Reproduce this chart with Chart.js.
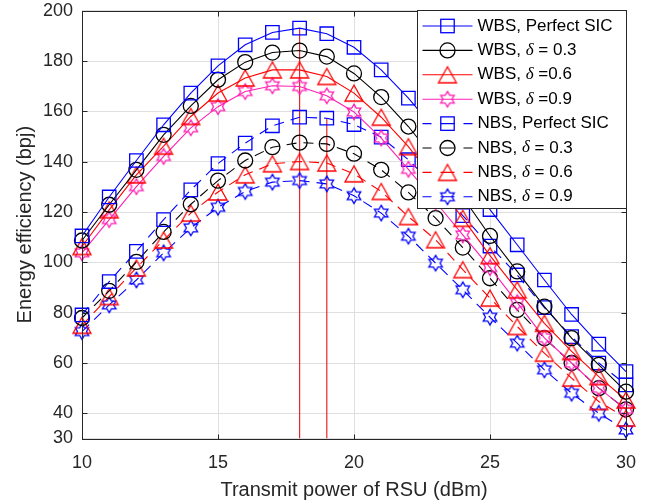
<!DOCTYPE html>
<html>
<head>
<meta charset="utf-8">
<script src="https://cdn.jsdelivr.net/npm/chart.js@4.4.1/dist/chart.umd.min.js"></script>
<style>
  html, body { margin: 0; padding: 0; background: #fff; }
  #wrap { width: 660px; height: 504px; }
</style>
</head>
<body>
<div id="wrap"><canvas id="graph" width="660" height="504"></canvas></div>
<script>
/* Data */
var power = [10, 11, 12, 13, 14, 15, 16, 17, 18, 19, 20, 21, 22, 23, 24, 25, 26, 27, 28, 29, 30];

var wbsPerfect = [110.5, 126, 140.5, 154.7, 167.3, 178.1, 186.5, 191.4, 193.1, 190.9, 185.5, 176.5, 165.3, 152.5, 137, 121, 107, 93, 79.3, 67.5, 56.6];
var wbs03      = [108.7, 122.9, 136.8, 150.7, 162.2, 172.6, 179.6, 183.4, 184.2, 181.8, 175.1, 165.7, 154, 140.5, 126, 110.5, 96.4, 82.4, 69.9, 59.3, 48.6];
var wbs06      = [106.3, 120.9, 134.8, 146.2, 158, 167.3, 173.3, 176.5, 176.5, 173.9, 167.3, 157.7, 146, 132, 117.5, 102.7, 89.1, 75.8, 64.6, 54.6, 45.3];
var wbs09      = [103.8, 117, 130.1, 142.1, 153.5, 161.9, 167.9, 170.2, 169.9, 166.2, 159.8, 149.4, 137, 124, 110.9, 97.9, 84, 70, 60, 50, 41.6];
var nbsPerfect = [79.1, 92.4, 104.4, 117, 128.8, 139.3, 147.4, 154.3, 157.7, 157.3, 154.8, 149.8, 140.8, 130, 118.6, 106.5, 95, 82, 70.5, 60, 51.3];
var nbs03      = [77.9, 88.7, 100.2, 112.1, 123.1, 132.5, 140.5, 145.8, 147.6, 147.1, 143.2, 136.8, 127.8, 117.6, 105.9, 93.7, 81.1, 69.9, 60, 50, 41.6];
var nbs06      = [75, 86.4, 97.8, 108.9, 119.6, 128, 134.8, 139.2, 140.1, 139.5, 135.2, 128.2, 118.2, 109, 97.1, 85.8, 74.5, 63.9, 54, 44.7, 38.1];
var nbs09      = [72.5, 83.1, 93, 103.8, 113.7, 121.9, 128.2, 131.9, 132.5, 131.2, 126.5, 119.6, 110.4, 99.7, 89.1, 78.2, 67.9, 57.3, 48, 40, 33.4];

var seriesLabels = ['WBS, Perfect SIC', 'WBS, δ = 0.3', 'WBS, δ =0.6', 'WBS, δ =0.9',
                    'NBS, Perfect SIC', 'NBS, δ = 0.3', 'NBS, δ = 0.6', 'NBS, δ = 0.9'];

/* vertical red lines at the optimum of the two Perfect SIC curves */
var optimumX = [18, 19];
var optimumY = [wbsPerfect[power.indexOf(18)], nbsPerfect[power.indexOf(19)]];

var yTicks = [30, 40, 60, 80, 100, 120, 140, 160, 180, 200];

var BLUE = '#0000ff', BLACK = '#000000', RED = '#ff0000', PINK = '#ff1fb4';
var FONT = "'Liberation Sans', Arial, Helvetica, sans-serif";
var AXIS = '#262626';

/* marker images (triangle and hexagram) */
function markerCanvas(kind, color) {
  var c = document.createElement('canvas');
  c.width = 24; c.height = 24;
  var g = c.getContext('2d');
  g.strokeStyle = color;
  g.lineWidth = 1.3;
  g.beginPath();
  if (kind === 'tri') {
    g.moveTo(12, 4);
    g.lineTo(21, 20);
    g.lineTo(3, 20);
  } else {
    var R = 7.8, r = R / Math.sqrt(3);
    for (var k = 0; k < 12; k++) {
      var ang = -Math.PI / 2 + k * Math.PI / 6;
      var rr = (k % 2 === 0) ? R : r;
      var px = 12 + rr * Math.cos(ang), py = 12 + rr * Math.sin(ang);
      if (k === 0) g.moveTo(px, py); else g.lineTo(px, py);
    }
  }
  g.closePath();
  g.stroke();
  return c;
}

var triRed = markerCanvas('tri', RED);
var starPink = markerCanvas('star', PINK);
var starBlue = markerCanvas('star', BLUE);

function serie(label, values, color, dashed, marker) {
  var radius = marker === 'rect' ? 9.5 : 7.5;
  return {
    label: label,
    data: values.map(function (v, i) { return { x: power[i], y: v }; }),
    borderColor: color,
    backgroundColor: 'transparent',
    borderWidth: 1.1,
    borderDash: dashed ? [10, 7] : [],
    pointStyle: marker,
    pointRadius: radius,
    pointHoverRadius: radius,
    pointBorderColor: color,
    pointBackgroundColor: 'transparent',
    pointBorderWidth: 1.3,
    tension: 0,
    fill: false,
    clip: false
  };
}

var datasets = [
  serie(seriesLabels[0], wbsPerfect, BLUE, false, 'rect'),
  serie(seriesLabels[1], wbs03, BLACK, false, 'circle'),
  serie(seriesLabels[2], wbs06, RED, false, triRed),
  serie(seriesLabels[3], wbs09, PINK, false, starPink),
  serie(seriesLabels[4], nbsPerfect, BLUE, true, 'rect'),
  serie(seriesLabels[5], nbs03, BLACK, true, 'circle'),
  serie(seriesLabels[6], nbs06, RED, true, triRed),
  serie(seriesLabels[7], nbs09, BLUE, true, starBlue)
];

for (var i = 0; i < optimumX.length; i++) {
  datasets.push({
    label: 'opt' + i,
    data: [{ x: optimumX[i], y: yTicks[0] }, { x: optimumX[i], y: optimumY[i] }],
    borderColor: '#e8262a',
    borderWidth: 1.2,
    pointRadius: 0,
    fill: false,
    order: 10
  });
}

/* box with inward ticks, MATLAB style */
var boxPlugin = {
  id: 'box',
  afterDatasetsDraw: function (chart) {
    var ctx = chart.ctx, a = chart.chartArea;
    var L = Math.round(a.left) + 0.5, R = Math.round(a.right) + 0.5;
    var T = Math.round(a.top) + 0.5, B = Math.round(a.bottom) + 0.5;
    ctx.save();
    ctx.strokeStyle = AXIS;
    ctx.lineWidth = 1;
    ctx.strokeRect(L, T, R - L, B - T);
    ctx.beginPath();
    chart.scales.x.ticks.forEach(function (t) {
      var px = Math.round(chart.scales.x.getPixelForValue(t.value)) + 0.5;
      ctx.moveTo(px, B); ctx.lineTo(px, B - 5);
      ctx.moveTo(px, T); ctx.lineTo(px, T + 5);
    });
    chart.scales.y.ticks.forEach(function (t) {
      var py = Math.round(chart.scales.y.getPixelForValue(t.value)) + 0.5;
      ctx.moveTo(L, py); ctx.lineTo(L + 5, py);
      ctx.moveTo(R, py); ctx.lineTo(R - 5, py);
    });
    ctx.stroke();
    ctx.restore();
  }
};

function drawMarker(ctx, ds, x, y) {
  var st = ds.pointStyle;
  ctx.strokeStyle = ds.pointBorderColor;
  ctx.lineWidth = ds.pointBorderWidth;
  if (st === 'rect') {
    var s = ds.pointRadius * Math.SQRT1_2;
    ctx.strokeRect(x - s, y - s, 2 * s, 2 * s);
  } else if (st === 'circle') {
    ctx.beginPath();
    ctx.arc(x, y, ds.pointRadius, 0, Math.PI * 2);
    ctx.stroke();
  } else {
    ctx.drawImage(st, x - st.width / 2, y - st.height / 2);
  }
}

/* legend drawn inside the plot, top right */
var legendPlugin = {
  id: 'insideLegend',
  afterDraw: function (chart) {
    var ctx = chart.ctx, a = chart.chartArea;
    var w = 209, h = 198;
    var left = Math.round(a.right) - w + 0.5, top = Math.round(a.top) - 0.5;
    ctx.save();
    ctx.fillStyle = '#ffffff';
    ctx.fillRect(left, top, w, h);
    ctx.strokeStyle = AXIS;
    ctx.lineWidth = 1;
    ctx.strokeRect(left, top, w, h);

    for (var i = 0; i < 8; i++) {
      var ds = chart.data.datasets[i];
      var cy = top + 15.5 + i * 24.4;
      var x0 = left + 5, x1 = left + 55, mx = left + 30;
      ctx.strokeStyle = ds.borderColor;
      ctx.lineWidth = 1.1;
      ctx.beginPath();
      if (ds.borderDash.length) {
        ctx.moveTo(x0, cy); ctx.lineTo(x0 + 9, cy);
        ctx.moveTo(mx - 7, cy); ctx.lineTo(mx + 7, cy);
        ctx.moveTo(x1 - 9, cy); ctx.lineTo(x1, cy);
      } else {
        ctx.moveTo(x0, cy); ctx.lineTo(x1, cy);
      }
      ctx.stroke();
      drawMarker(ctx, ds, mx, cy);

      var parts = ds.label.split('δ');
      var tx = left + 60;
      ctx.fillStyle = '#000';
      ctx.textBaseline = 'middle';
      ctx.textAlign = 'left';
      ctx.font = '17px ' + FONT;
      ctx.fillText(parts[0], tx, cy);
      if (parts.length > 1) {
        tx += ctx.measureText(parts[0]).width;
        ctx.font = "italic 17px 'Liberation Serif', 'Times New Roman', serif";
        ctx.fillText('δ', tx, cy);
        tx += ctx.measureText('δ').width;
        ctx.font = '17px ' + FONT;
        ctx.fillText(parts[1], tx, cy);
      }
    }
    ctx.restore();
  }
};

Chart.defaults.font.family = FONT;
Chart.defaults.color = AXIS;

var graph = document.getElementById('graph').getContext('2d');
var chart = new Chart(graph, {
  type: 'line',
  data: { datasets: datasets },
  options: {
    responsive: false,
    animation: false,
    devicePixelRatio: 1,
    layout: { padding: { left: 0, right: 34, top: 10, bottom: 0 } },
    plugins: { legend: { display: false }, tooltip: { enabled: false } },
    scales: {
      x: {
        type: 'linear',
        min: 10,
        max: 30,
        ticks: { stepSize: 5, padding: 14, font: { size: 18 }, color: AXIS },
        grid: { color: '#dfdfdf', drawTicks: false },
        border: { display: false },
        title: { display: true, text: 'Transmit power of RSU (dBm)', font: { size: 20 }, color: AXIS, padding: { top: 0, bottom: 2 } },
        afterFit: function (s) { s.height = 65.5; s.paddingLeft = 0; s.paddingRight = 0; }
      },
      y: {
        min: 30,
        max: 200,
        afterBuildTicks: function (s) { s.ticks = yTicks.map(function (v) { return { value: v }; }); },
        ticks: { padding: 9, font: { size: 18 }, color: AXIS },
        grid: { color: '#dfdfdf', drawTicks: false },
        border: { display: false },
        title: { display: true, text: 'Energy efficiency (bpj)', font: { size: 20 }, color: AXIS, padding: { top: 13, bottom: 0 } },
        afterFit: function (s) { s.width = 82; s.paddingTop = 0; s.paddingBottom = 0; }
      }
    }
  },
  plugins: [boxPlugin, legendPlugin]
});
</script>
</body>
</html>
